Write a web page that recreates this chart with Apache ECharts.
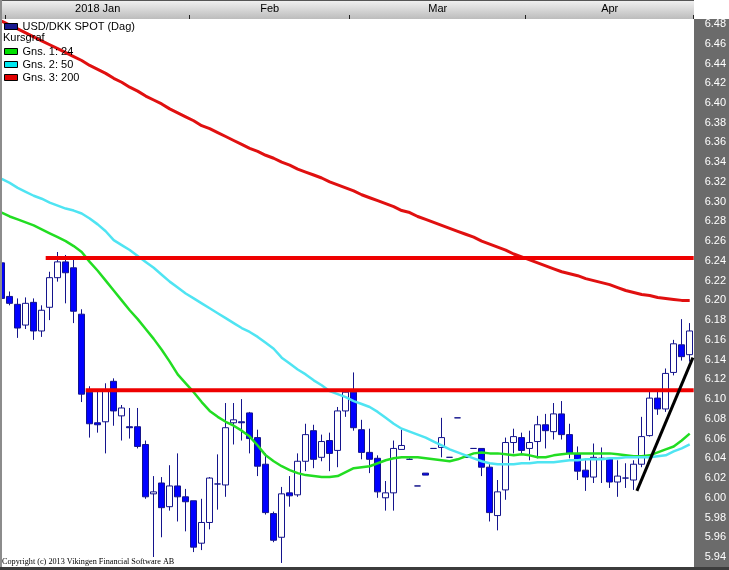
<!DOCTYPE html>
<html><head><meta charset="utf-8">
<script src="https://cdn.jsdelivr.net/npm/echarts@6/dist/echarts.min.js"></script>
<style>html,body{margin:0;padding:0;background:#fff}#c{width:729px;height:570px}</style>
</head><body><div id="c"></div>
<script>
// ---- data ----
const dates = ['2017-12-29',
'2018-01-01','2018-01-02','2018-01-03','2018-01-04','2018-01-05','2018-01-08','2018-01-09','2018-01-10','2018-01-11','2018-01-12',
'2018-01-15','2018-01-16','2018-01-17','2018-01-18','2018-01-19','2018-01-22','2018-01-23','2018-01-24','2018-01-25','2018-01-26',
'2018-01-29','2018-01-30','2018-01-31',
'2018-02-01','2018-02-02','2018-02-05','2018-02-06','2018-02-07','2018-02-08','2018-02-09','2018-02-12','2018-02-13','2018-02-14',
'2018-02-15','2018-02-16','2018-02-19','2018-02-20','2018-02-21','2018-02-22','2018-02-23','2018-02-26','2018-02-27','2018-02-28',
'2018-03-01','2018-03-02','2018-03-05','2018-03-06','2018-03-07','2018-03-08','2018-03-09','2018-03-12','2018-03-13','2018-03-14',
'2018-03-15','2018-03-16','2018-03-19','2018-03-20','2018-03-21','2018-03-22','2018-03-23','2018-03-26','2018-03-27','2018-03-28',
'2018-03-29','2018-03-30',
'2018-04-02','2018-04-03','2018-04-04','2018-04-05','2018-04-06','2018-04-09','2018-04-10','2018-04-11','2018-04-12','2018-04-13',
'2018-04-16','2018-04-17','2018-04-18','2018-04-19','2018-04-20','2018-04-23','2018-04-24','2018-04-25','2018-04-26','2018-04-27',
'2018-04-30'];

const openP = [6.238,6.204,6.196,6.175,6.198,6.169,6.193,6.223,6.239,6.233,
6.186,6.107,6.076,6.077,6.118,6.083,6.072,6.072,6.054,6.004,
6.015,5.991,6.012,6.001,5.997,5.954,5.975,6.014,6.013,6.076,
6.077,6.086,6.061,6.034,5.984,5.960,6.005,6.003,6.037,6.068,
6.041,6.058,6.048,6.088,6.107,6.069,6.046,6.040,6.000,6.005,
6.049,6.039,6.012,6.025,6.050,6.051,6.041,6.081,6.041,6.050,
6.050,6.031,5.982,6.008,6.056,6.061,6.050,6.057,6.074,6.067,
6.085,6.064,6.044,6.028,6.021,6.040,6.040,6.016,6.020,6.018,
6.034,6.063,6.101,6.090,6.127,6.155,6.145];
const closeP = [6.202,6.197,6.172,6.197,6.169,6.190,6.223,6.239,6.228,6.189,
6.105,6.075,6.074,6.109,6.088,6.091,6.071,6.052,6.001,6.006,
5.990,6.012,6.001,5.996,5.950,5.975,6.020,6.014,6.071,6.079,
6.076,6.060,6.032,5.985,5.957,6.004,6.002,6.037,6.064,6.039,
6.057,6.045,6.088,6.107,6.071,6.046,6.039,6.006,6.005,6.050,
6.053,6.039,6.012,6.023,6.050,6.061,6.041,6.081,6.041,6.050,
6.031,5.985,6.006,6.056,6.062,6.048,6.056,6.074,6.068,6.085,
6.064,6.045,6.027,6.021,6.041,6.040,6.016,6.022,6.020,6.034,
6.062,6.101,6.090,6.126,6.156,6.143,6.169];
const lowP = [6.192,6.195,6.162,6.171,6.160,6.163,6.180,6.219,6.197,6.177,
6.097,6.061,6.066,6.045,6.073,6.058,6.060,6.050,5.999,5.940,
5.960,5.987,5.976,5.966,5.945,5.947,5.968,5.988,6.001,6.054,
6.058,6.045,6.022,5.983,5.955,5.934,5.991,6.001,6.027,6.030,
6.037,6.027,6.031,6.082,6.068,6.039,6.025,6.000,5.987,5.987,
6.049,6.039,6.012,6.023,6.050,6.041,6.041,6.081,6.041,6.050,
6.022,5.976,5.967,5.998,6.045,6.045,6.038,6.040,6.050,6.059,
6.059,6.040,6.018,6.007,6.015,6.015,6.010,6.001,6.010,6.008,
6.031,6.062,6.084,6.087,6.124,6.139,6.138];
const highP = [6.239,6.209,6.202,6.203,6.202,6.195,6.229,6.249,6.246,6.244,
6.191,6.113,6.109,6.116,6.121,6.094,6.091,6.091,6.058,6.022,
6.021,6.033,6.045,6.009,5.997,5.999,6.021,6.044,6.096,6.096,
6.100,6.087,6.069,6.045,5.986,6.011,6.022,6.045,6.075,6.074,
6.064,6.066,6.092,6.110,6.127,6.079,6.070,6.043,6.017,6.058,
6.069,6.040,6.012,6.025,6.050,6.081,6.041,6.081,6.041,6.050,
6.050,6.035,6.018,6.061,6.070,6.066,6.068,6.083,6.085,6.096,
6.098,6.075,6.052,6.038,6.055,6.051,6.040,6.038,6.035,6.038,
6.082,6.108,6.108,6.131,6.160,6.181,6.177];

const ma24 = [6.289,6.285,6.282,6.279,6.276,6.272,6.268,6.264,6.260,6.255,
6.249,6.239,6.230,6.220,6.210,6.200,6.190,6.181,6.171,6.161,
6.150,6.138,6.125,6.116,6.107,6.097,6.088,6.082,6.077,6.073,
6.068,6.062,6.053,6.043,6.037,6.032,6.028,6.025,6.023,6.022,
6.021,6.021,6.022,6.026,6.030,6.031,6.032,6.035,6.038,6.040,
6.041,6.041,6.041,6.040,6.039,6.038,6.037,6.039,6.042,6.045,
6.046,6.045,6.045,6.044,6.043,6.044,6.043,6.041,6.041,6.043,
6.044,6.045,6.045,6.045,6.045,6.045,6.045,6.044,6.043,6.042,
6.042,6.043,6.046,6.049,6.052,6.058,6.065];
const ma50 = [6.323,6.319,6.314,6.310,6.306,6.303,6.299,6.296,6.293,6.291,
6.288,6.283,6.277,6.270,6.261,6.256,6.251,6.245,6.239,6.233,
6.226,6.219,6.213,6.207,6.202,6.197,6.192,6.187,6.182,6.177,
6.172,6.168,6.163,6.157,6.151,6.142,6.136,6.130,6.125,6.119,
6.114,6.108,6.105,6.102,6.098,6.095,6.092,6.087,6.081,6.075,
6.070,6.067,6.064,6.061,6.057,6.053,6.049,6.046,6.043,6.040,
6.037,6.035,6.034,6.034,6.034,6.035,6.035,6.036,6.036,6.036,
6.037,6.038,6.038,6.039,6.039,6.039,6.040,6.040,6.041,6.041,
6.041,6.041,6.042,6.043,6.047,6.050,6.054];
const ma200 = [6.483,6.479,6.475,6.471,6.467,6.463,6.459,6.455,6.451,6.447,
6.443,6.438,6.434,6.430,6.425,6.421,6.416,6.412,6.407,6.403,
6.399,6.394,6.390,6.386,6.382,6.377,6.374,6.370,6.366,6.362,
6.358,6.354,6.351,6.347,6.344,6.340,6.337,6.333,6.330,6.327,
6.324,6.320,6.317,6.314,6.311,6.307,6.304,6.301,6.298,6.295,
6.291,6.289,6.285,6.282,6.279,6.276,6.273,6.270,6.267,6.264,
6.260,6.257,6.254,6.251,6.247,6.244,6.241,6.238,6.235,6.232,
6.229,6.227,6.225,6.222,6.220,6.218,6.216,6.213,6.210,6.208,
6.206,6.205,6.203,6.202,6.201,6.200,6.200];

// drawn levels: [start position (in bars), price]
const resistance = [[6, 6.243], [87, 6.243]];
const support = [[11, 6.109], [87, 6.109]];
const trendLine = [[79.9, 6.007], [86.9, 6.142]];

const monthKeys = ['2018-01', '2018-02', '2018-03', '2018-04'];
const monthNames = ['2018 Jan', 'Feb', 'Mar', 'Apr'];
const yTicks = {min: 5.92, max: 6.50, step: 0.02, showMin: 5.94, showMax: 6.48};

const names = {px: 'USD/DKK SPOT (Dag)', m1: 'Gns. 1: 24', m2: 'Gns. 2: 50', m3: 'Gns. 3: 200'};

// ---- build ----
const candles = dates.map((d, i) => [openP[i], closeP[i], lowP[i], highP[i]]);
const months = monthKeys.map((k, m) => {
  let f = -1, l = -1;
  dates.forEach((d, i) => { if (d.startsWith(k)) { if (f < 0) f = i; l = i; } });
  return {first: f, last: l, mid: Math.floor((f + l) / 2), half: (f + l) % 2 === 1, name: monthNames[m]};
});
const N = dates.length;
const FONT = 'Liberation Sans, Arial, sans-serif';

const chart = echarts.init(document.getElementById('c'), null, {renderer: 'canvas'});
const GL = -2.3, GW = 696;
const option = {
  animation: false,
  backgroundColor: '#ffffff',
  grid: [
    {left: GL, width: GW, top: 4.26, height: 572.5, outerBoundsMode: 'none', containLabel: false},
    {left: GL, width: GW, top: 0, height: 19, outerBoundsMode: 'none', containLabel: false}
  ],
  xAxis: [
    {type: 'category', data: dates, gridIndex: 0, boundaryGap: true, show: false},
    {type: 'value', gridIndex: 0, min: 0, max: N, show: false},
    {type: 'category', data: dates, gridIndex: 1, boundaryGap: true, position: 'bottom', z: 5,
      axisLine: {show: false},
      axisTick: {show: true, inside: true, length: 4, lineStyle: {color: '#222'},
        interval: (idx) => months.some(m => m.first === idx)},
      axisLabel: {show: true, inside: true, margin: 5, color: '#000', fontSize: 11, fontFamily: FONT,
        interval: (idx) => months.some(m => m.mid === idx),
        formatter: (v, idx) => {
          const m = months.find(mm => mm.mid === idx);
          if (!m) return '';
          return m.half ? '{s|' + m.name + '}' : m.name;
        },
        rich: {s: {padding: [0, 0, 0, 8], color: '#000', fontSize: 11, fontFamily: FONT}}
      },
      splitLine: {show: false}
    }
  ],
  yAxis: [
    {type: 'value', gridIndex: 0, position: 'right', min: yTicks.min, max: yTicks.max, interval: yTicks.step, z: 6,
      axisLine: {show: true, lineStyle: {color: '#a8a8a8', width: 1}},
      axisTick: {show: true, length: 4, lineStyle: {color: '#ffffff'}},
      axisLabel: {margin: 11, color: '#ffffff', fontSize: 11, fontFamily: FONT,
        formatter: (v) => (v < yTicks.showMin - 1e-6 || v > yTicks.showMax + 1e-6) ? '' : v.toFixed(2)},
      splitLine: {show: false}
    },
    {type: 'value', gridIndex: 1, show: false}
  ],
  legend: [
    {left: 4, top: 21, padding: 0, itemWidth: 13, itemHeight: 6, itemGap: 0, selectedMode: false,
      textStyle: {fontSize: 11, fontFamily: FONT, color: '#000'},
      data: [{name: names.px, icon: 'rect', itemStyle: {color: '#1a1a90', borderColor: '#000', borderWidth: 1}}]},
    {left: 4, top: 45, padding: 0, orient: 'vertical', itemWidth: 13, itemHeight: 6, itemGap: 0, selectedMode: false,
      textStyle: {fontSize: 11, fontFamily: FONT, color: '#000', lineHeight: 13},
      data: [
        {name: names.m1, icon: 'rect', itemStyle: {color: '#00e000', borderColor: '#000', borderWidth: 1}},
        {name: names.m2, icon: 'rect', itemStyle: {color: '#00e8f0', borderColor: '#000', borderWidth: 1}},
        {name: names.m3, icon: 'rect', itemStyle: {color: '#e00000', borderColor: '#000', borderWidth: 1}}
      ]}
  ],
  title: [
    {text: 'Kursgraf', left: 3, top: 32, padding: 0, textStyle: {fontSize: 11, fontWeight: 'normal', fontFamily: FONT, color: '#000'}},
    {text: 'Copyright (c) 2013 Vikingen Financial Software AB', left: 2, top: 558, padding: 0,
      textStyle: {fontSize: 8.2, fontWeight: 'normal', fontFamily: 'Liberation Serif, Times New Roman, serif', color: '#000'}}
  ],
  graphic: [
    {type: 'rect', z: 1, silent: true, shape: {x: 0, y: 0, width: 694, height: 19},
      style: {fill: new echarts.graphic.LinearGradient(0, 0, 0, 1, [{offset: 0, color: '#f2f2f2'}, {offset: 1, color: '#bcbcbc'}])}},
    {type: 'rect', z: 1, silent: true, shape: {x: 0, y: 0, width: 694, height: 1}, style: {fill: '#555'}},
    {type: 'rect', z: 1, silent: true, shape: {x: 694, y: 19, width: 35, height: 551}, style: {fill: '#6b6b6b'}},
    {type: 'rect', z: 20, silent: true, shape: {x: 0, y: 0, width: 2, height: 570}, style: {fill: '#8c8c8c'}},
    {type: 'rect', z: 20, silent: true, shape: {x: 0, y: 567, width: 729, height: 3}, style: {fill: '#3c3c3c'}}
  ],
  series: [
    {name: names.px, type: 'candlestick', xAxisIndex: 0, yAxisIndex: 0, data: candles, barWidth: 6, z: 2,
      itemStyle: {color: '#ffffff', color0: '#0000ff', borderColor: '#14148c', borderColor0: '#14148c', borderWidth: 1}},
    {name: names.m1, type: 'line', xAxisIndex: 0, yAxisIndex: 0, data: ma24, symbol: 'none', z: 3,
      lineStyle: {color: '#22dd22', width: 2.5}},
    {name: names.m2, type: 'line', xAxisIndex: 0, yAxisIndex: 0, data: ma50, symbol: 'none', z: 3,
      lineStyle: {color: '#4fe4f2', width: 2.5}},
    {name: names.m3, type: 'line', xAxisIndex: 0, yAxisIndex: 0, data: ma200, symbol: 'none', z: 3,
      lineStyle: {color: '#e01010', width: 3}},
    {name: 'resistance', type: 'line', xAxisIndex: 1, yAxisIndex: 0, data: resistance, symbol: 'none', z: 4,
      lineStyle: {color: '#ee0000', width: 4}},
    {name: 'support', type: 'line', xAxisIndex: 1, yAxisIndex: 0, data: support, symbol: 'none', z: 4,
      lineStyle: {color: '#ee0000', width: 4}},
    {name: 'trend', type: 'line', xAxisIndex: 1, yAxisIndex: 0, data: trendLine, symbol: 'none', z: 4,
      lineStyle: {color: '#000000', width: 3}}
  ]
};
chart.setOption(option);
</script>
</body></html>
